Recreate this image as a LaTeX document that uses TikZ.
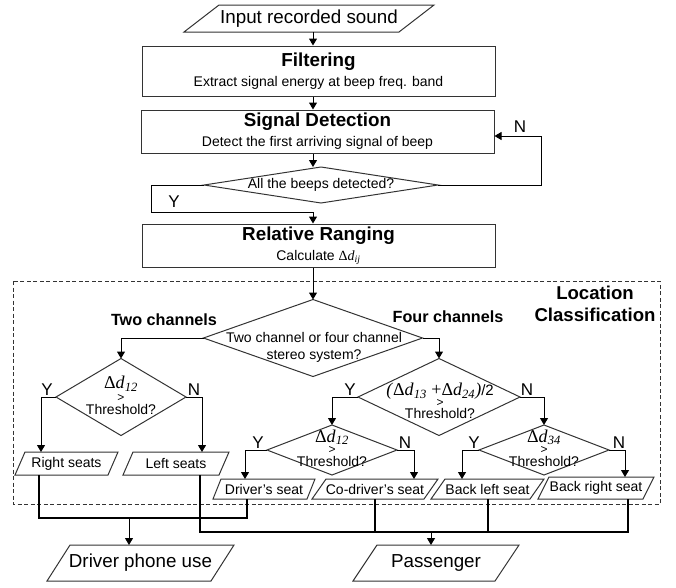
\documentclass[tikz,border=0pt]{standalone}
\usepackage{fontspec}
\setmainfont{Liberation Sans}
\newfontfamily\serifx{Liberation Serif}
\usetikzlibrary{arrows.meta,shapes.geometric}

\newcommand{\dd}[1]{{\serifx Δ\textit{d}\textsubscript{\textit{#1}}}}
\newcommand{\fs}[1]{\fontsize{#1}{#1}\selectfont}
\newcommand{\tightlines}{\lineskiplimit=-100pt\relax}
% slanted outline round a named io node
\newcommand{\iobox}[2]{\draw[ioline] ([xshift=-#2]#1.south west) -- ([xshift=#2]#1.north west) -- ([xshift=#2]#1.north east) -- ([xshift=-#2]#1.south east) -- cycle;}

\tikzset{
  proc/.style={draw=black!80, line width=1pt, minimum width=353pt, inner sep=0pt, align=center, font=\fontsize{14}{20}\selectfont},
  dec/.style={diamond, draw=black!80, line width=1pt, inner sep=0pt, outer sep=0pt},
  dtxt/.style={inner sep=0pt, align=center, font=\fontsize{14}{12}\selectfont\tightlines},
  io/.style={inner sep=0pt, outer sep=0pt, font=\fontsize{14}{14}\selectfont},
  ioline/.style={draw=black!80, line width=1pt, line join=miter},
  arr/.style={-{Triangle[length=7pt,width=8pt]}, line width=1pt},
  bus/.style={line width=2pt},
  yn/.style={inner sep=0pt, font=\fontsize{17}{17}\selectfont},
  head/.style={inner sep=0pt, align=center, font=\bfseries\fontsize{16.2}{22}\selectfont},
}

\begin{document}
\begin{tikzpicture}[x=1pt, y=-1pt]
\useasboundingbox (0,0) rectangle (676,587);

\coordinate (axis) at (313,0);
\coordinate (nloop) at (541,136);
\coordinate (yloop) at (151,212);
\coordinate (dbus) at (129,518);
\coordinate (pbus) at (431,532);

% main column
\node[io, minimum width=215pt, minimum height=27pt, font=\fontsize{18.8}{18.8}\selectfont] (inp) at (309,18.5) {Input recorded sound};
\node[proc, minimum height=50pt] (filt) at (318.5,71) {{\bfseries\fs{18.8}Filtering}\\Extract signal energy at beep freq. band};
\node[proc, minimum height=43pt] (sig) at (317.5,131.5) {{\bfseries\fs{18.8}Signal Detection}\\Detect the first arriving signal of beep};
\node[dec, minimum width=234pt, minimum height=36pt] (beeps) at (321,185) {};
\node[dtxt] (beepst) at (321,185) {All the beeps detected?};
\node[proc, minimum height=43pt] (rr) at (318.5,245.5) {{\bfseries\fs{18.8}Relative Ranging}\\Calculate \dd{ij}};

% location classification
\draw[black!80, line width=1pt, dash pattern=on 4pt off 2.5pt] (13,281) rectangle (660,504);
\node[head, font=\bfseries\fontsize{18.6}{22}\selectfont] (loc) at (595,304) {Location\\Classification};
\node[head] (twoh) at (164,320) {Two channels};
\node[head] (fourh) at (448,317) {Four channels};

\node[dec, minimum width=219pt, minimum height=77pt] (ch) at (313,338) {};
\node[dtxt, font=\fontsize{14}{17}\selectfont] (cht) at (314,347) {Two channel or four channel\\stereo system?};

\node[dec, minimum width=130pt, minimum height=77pt] (two) at (121,397) {};
\node[dtxt, font=\fontsize{14}{13.5}\selectfont\tightlines] (twot) at (121,395.5) {{\fs{18}\dd{12}}\\[-1pt]{\fs{12}>}\\Threshold?};
\node[dec, minimum width=162pt, minimum height=77pt] (four) at (439,397) {};
\node[dtxt] (fourt) at (440,401) {{\fs{18}\serifx\textit{(}\dd{13} +\dd{24}\textit{)}}{\fs{15}/2}\\[-1pt]{\fs{12}>}\\Threshold?};

\node[dec, minimum width=130pt, minimum height=50pt] (d12) at (332,450) {};
\node[dtxt, font=\fontsize{14}{12.5}\selectfont\tightlines] (d12t) at (332,448) {{\fs{18}\dd{12}}\\[-1pt]{\fs{12}>}\\Threshold?};
\node[dec, minimum width=130pt, minimum height=50pt] (d34) at (544,450) {};
\node[dtxt, font=\fontsize{14}{12.5}\selectfont\tightlines] (d34t) at (544,448) {{\fs{18}\dd{34}}\\[-1pt]{\fs{12}>}\\Threshold?};

% seats
\node[io, minimum width=93pt, minimum height=23pt] (rs) at (66.5,463.5) {Right seats};
\node[io, minimum width=96pt, minimum height=23pt] (ls) at (176,463.5) {Left seats};
\node[io, minimum width=94pt, minimum height=20pt] (drs) at (264,489) {Driver’s seat};
\node[io, minimum width=112pt, minimum height=20pt] (cds) at (375,489) {Co-driver’s seat};
\node[io, minimum width=99pt, minimum height=20pt] (bls) at (487.5,489) {Back left seat};
\node[io, minimum width=105pt, minimum height=22pt] (brs) at (596,488) {Back right seat};

% results
\node[io, minimum width=164pt, minimum height=36pt, font=\fontsize{18.8}{18.8}\selectfont] (dpu) at (140.5,563) {Driver phone use};
\node[io, minimum width=142pt, minimum height=36pt, font=\fontsize{18.8}{18.8}\selectfont] (pas) at (436,563) {Passenger};

\iobox{inp}{17.5pt}
\iobox{rs}{5pt}
\iobox{ls}{5pt}
\iobox{drs}{4pt}
\iobox{cds}{7pt}
\iobox{bls}{7pt}
\iobox{brs}{5.5pt}
\iobox{dpu}{11.5pt}
\iobox{pas}{12pt}

% yes / no
\node[yn] (n0) at (520,127) {N};
\node[yn] (y0) at (174,202) {Y};
\node[yn] (y1) at (47,390) {Y};
\node[yn] (n1) at (194,390) {N};
\node[yn] (y2) at (350,390) {Y};
\node[yn] (n2) at (527,390) {N};
\node[yn] (y3) at (258,443) {Y};
\node[yn] (n3) at (405,443) {N};
\node[yn] (y4) at (474,443) {Y};
\node[yn] (n4) at (619,443) {N};

% connectors
\draw[arr] (inp.south -| axis) -- (filt.north -| axis);
\draw[arr] (filt.south -| axis) -- (sig.north -| axis);
\draw[arr] (sig.south -| axis) -- (beeps.north -| axis);
\draw[arr] (beeps.east) -| (nloop) -- (sig.east |- nloop);
\draw[arr] (beeps.west) -| (yloop) -| (rr.north -| axis);
\draw[arr] (rr.south -| axis) -- (ch.north);
\draw[arr] (ch.west) -| (two.north);
\draw[arr] (ch.east) -| (four.north);
\draw[arr] (two.west) -| ([xshift=-25.5pt]rs.north);
\draw[arr] (two.east) -| ([xshift=26pt]ls.north);
\draw[arr] (four.west) -| (d12.north);
\draw[arr] (four.east) -| (d34.north);
\draw[arr] (d12.west) -| ([xshift=-19pt]drs.north);
\draw[arr] (d12.east) -| ([xshift=39pt]cds.north);
\draw[arr] (d34.west) -| ([xshift=-25.5pt]bls.north);
\draw[arr] (d34.east) -| ([xshift=29pt]brs.north);

\draw[bus] ([xshift=-27.5pt]rs.south) |- (dbus) -| ([xshift=-17pt]drs.south);
\draw[arr] (dbus) -- (dbus |- dpu.north);
\draw[bus] ([xshift=24pt]ls.south) |- (pbus) -| ([xshift=32pt]brs.south);
\draw[bus] (cds.south) -- (cds.south |- pbus);
\draw[bus] (bls.south) -- (bls.south |- pbus);
\draw[arr] (pbus) -- (pbus |- pas.north);
\end{tikzpicture}
\end{document}
